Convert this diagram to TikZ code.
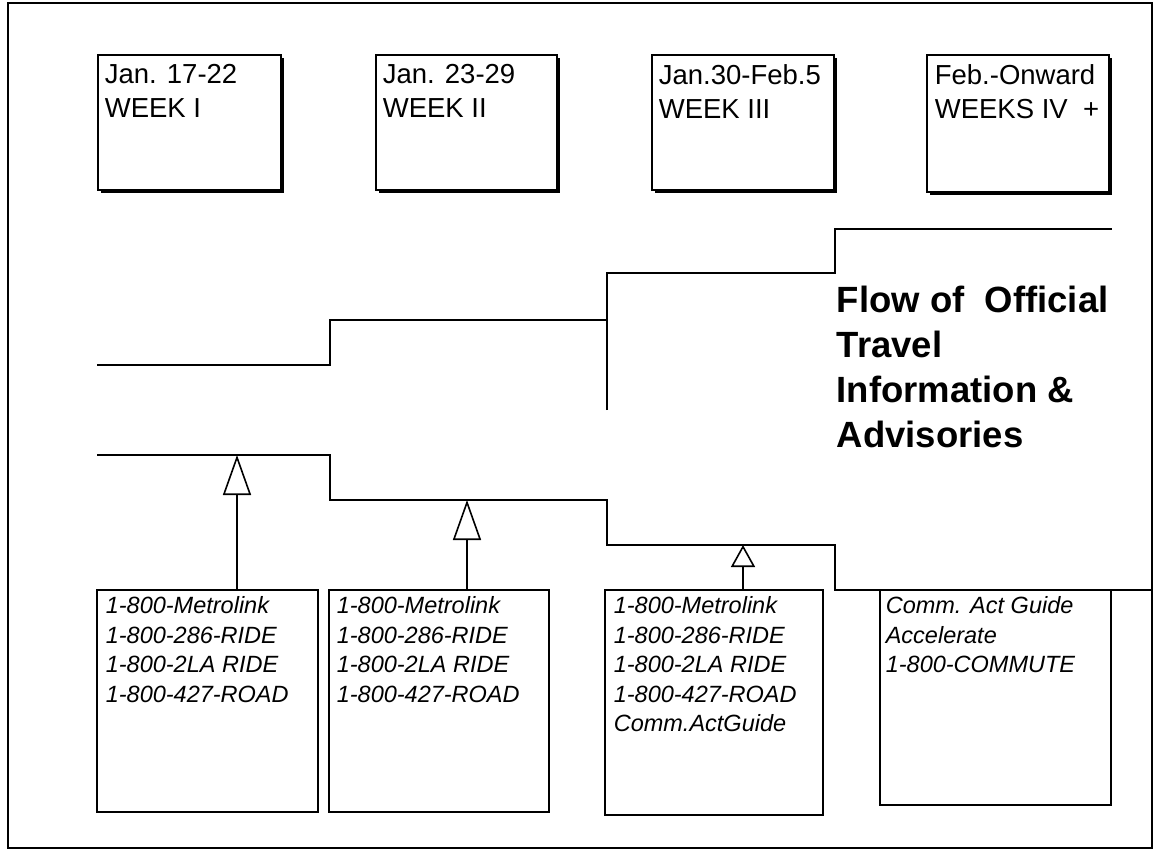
\documentclass[tikz,border=0pt]{standalone}
\usepackage{fontspec}
\setmainfont{Liberation Sans}
\usetikzlibrary{arrows.meta,shadows}
\begin{document}
\begin{tikzpicture}[x=1pt,y=-1pt,line width=1.6pt,
  weekbox/.style={draw,fill=white,inner sep=0pt,outer sep=0pt,
    drop shadow={shadow xshift=3pt,shadow yshift=-3pt,fill=black,opacity=1}},
  listbox/.style={draw,inner sep=0pt,outer sep=0pt},
  wtext/.style={anchor=north west,inner sep=0pt,align=left,
    font=\fontsize{27.5}{34}\selectfont},
  ltext/.style={anchor=north west,inner sep=0pt,align=left,
    font=\fontsize{23.5}{29.5}\selectfont\itshape},
  ttext/.style={anchor=north west,inner sep=0pt,align=left,
    font=\fontsize{36.5}{45}\selectfont\bfseries},
  flowline/.style={line width=1.6pt},
  uparrow/.style={-{Triangle[open,length=40pt,width=28pt]}}]
\useasboundingbox (0,0) rectangle (1155,850);
\draw[line width=2pt] (8,3) rectangle (1152,848);

% week boxes
\node[weekbox,minimum width=183pt,minimum height=135pt] (w1) at (189.5,122.5) {};
\node[weekbox,minimum width=181pt,minimum height=135pt] (w2) at (466.5,122.5) {};
\node[weekbox,minimum width=182pt,minimum height=135pt] (w3) at (743,122.5) {};
\node[weekbox,minimum width=182pt,minimum height=137pt] (w4) at (1018,123.5) {};
\node[wtext] (w1t) at (104,64) {Jan. 17-22\\WEEK I};
\node[wtext] (w2t) at (382,64) {Jan. 23-29\\WEEK II};
\node[wtext] (w3t) at (658,64) {Jan.30-Feb.5\\WEEK III};
\node[wtext] (w4t) at (934,64) {Feb.-Onward\\WEEKS IV\ \ +};

% upper flow line
\draw[flowline] (97,365) -- (330,365) -- (330,320) -- (607,320);
\draw[flowline] (607,410) -- (607,273) -- (835,273) -- (835,229) -- (1112,229);
% lower flow line
\draw[flowline] (97,455) -- (330,455) -- (330,500) -- (607,500) -- (607,545)
  -- (835,545) -- (835,590) -- (1152,590);

% title
\node[ttext] (title) at (836,285) {Flow of\ \ Official\\Travel\\Information \&\\Advisories};

% list boxes
\node[listbox,minimum width=221pt,minimum height=222pt] (b1) at (207.5,701) {};
\node[listbox,minimum width=220pt,minimum height=222pt] (b2) at (439,701) {};
\node[listbox,minimum width=218pt,minimum height=225pt] (b3) at (714,702.5) {};
\node[listbox,minimum width=231pt,minimum height=215pt] (b4) at (995.5,697.5) {};
\node[ltext] (b1t) at (105,596) {1-800-Metrolink\\1-800-286-RIDE\\1-800-2LA RIDE\\1-800-427-ROAD};
\node[ltext] (b2t) at (336,596) {1-800-Metrolink\\1-800-286-RIDE\\1-800-2LA RIDE\\1-800-427-ROAD};
\node[ltext] (b3t) at (613,596) {1-800-Metrolink\\1-800-286-RIDE\\1-800-2LA RIDE\\1-800-427-ROAD\\Comm.ActGuide};
\node[ltext] (b4t) at (885,596) {Comm. Act Guide\\Accelerate\\1-800-COMMUTE};

% arrows
\coordinate (t1) at (237,455);
\coordinate (t2) at (467,500);
\coordinate (t3) at (743,545);
\draw[uparrow] (b1.north -| t1) -- (t1);
\draw[uparrow] (b2.north -| t2) -- (t2);
\draw[-{Triangle[open,length=22pt,width=24pt]}] (b3.north -| t3) -- (t3);
\end{tikzpicture}
\end{document}
